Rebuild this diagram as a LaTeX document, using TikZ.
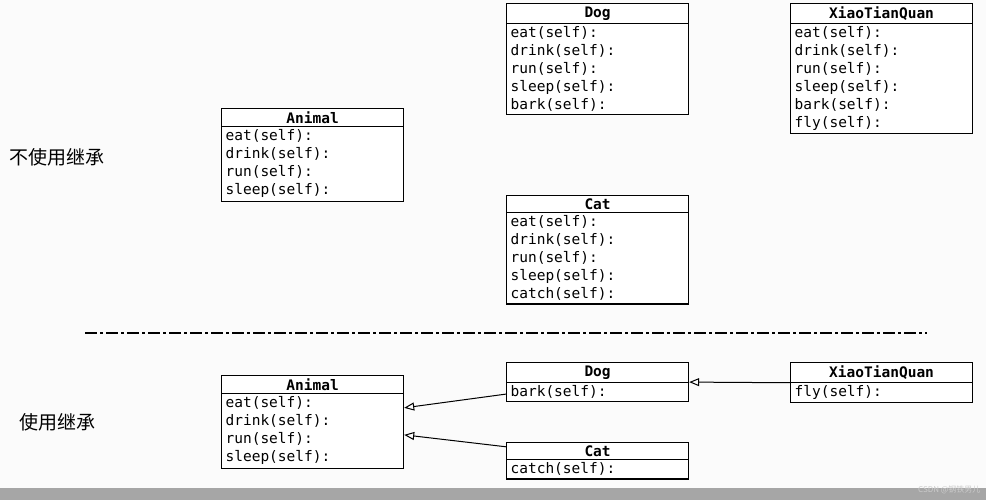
\documentclass[tikz,border=0pt]{standalone}
\usepackage{fontspec}
\setmonofont{DejaVu Sans Mono}
\newfontfamily\cjk{Noto Sans CJK SC}
\usetikzlibrary{shapes.multipart,arrows.meta}
\begin{document}
\begin{tikzpicture}[x=1pt,y=-1pt,
  uml/.style={rectangle split,rectangle split parts=2,draw,line width=1.2pt,anchor=north west,
    text width=174pt,inner xsep=4pt,inner ysep=2.5pt,fill=white,
    font=\ttfamily\fontsize{14.5}{18}\selectfont},
  inh/.style={line width=1pt,-{Triangle[open,length=10pt,width=8pt]}},
  lab/.style={font=\cjk\fontsize{19}{22}\selectfont,anchor=west}]
\useasboundingbox (0,0) rectangle (986,500);
\fill[white!97!gray] (0,0) rectangle (986,500);
\fill[gray!70] (0,488) rectangle (986,500);
\newcommand\ttl[1]{\makebox[174pt][c]{\bfseries #1}}
\node[uml] (tanimal) at (221,108) {\ttl{Animal}\nodepart{two}eat(self):\\drink(self):\\run(self):\\sleep(self):};
\node[uml] (tdog) at (506,3) {\ttl{Dog}\nodepart{two}eat(self):\\drink(self):\\run(self):\\sleep(self):\\bark(self):};
\node[uml] (txtq) at (790,3) {\ttl{XiaoTianQuan}\nodepart{two}eat(self):\\drink(self):\\run(self):\\sleep(self):\\bark(self):\\fly(self):};
\node[uml] (tcat) at (506,195) {\ttl{Cat}\nodepart{two}eat(self):\\drink(self):\\run(self):\\sleep(self):\\catch(self):};
\node[lab] (l1) at (6,157) {不使用继承};
\coordinate (d1) at (85,333);
\coordinate (d2) at (927,333);
\draw[very thick,dash pattern=on 12pt off 3pt on 3pt off 3pt] (d1) -- (d2);
\node[uml] (banimal) at (221,375) {\ttl{Animal}\nodepart{two}eat(self):\\drink(self):\\run(self):\\sleep(self):};
\node[uml] (bdog) at (506,362) {\ttl{Dog}\nodepart{two}bark(self):};
\node[uml] (bxtq) at (790,362) {\ttl{XiaoTianQuan}\nodepart{two}fly(self):};
\node[uml] (bcat) at (506,442) {\ttl{Cat}\nodepart{two}catch(self):};
\node[lab] (l2) at (16,422) {使用继承};
\draw[inh] ([yshift=-12pt]bdog.west) -- ([yshift=14pt]banimal.east);
\draw[inh] ([yshift=14pt]bcat.west) -- ([yshift=-13pt]banimal.east);
\draw[inh] (bxtq.west) -- (bdog.east);
\node[font=\cjk\fontsize{8}{9}\selectfont,text=gray!40,anchor=east] (wm) at (984,490) {CSDN @钢铁男儿};
\end{tikzpicture}
\end{document}
